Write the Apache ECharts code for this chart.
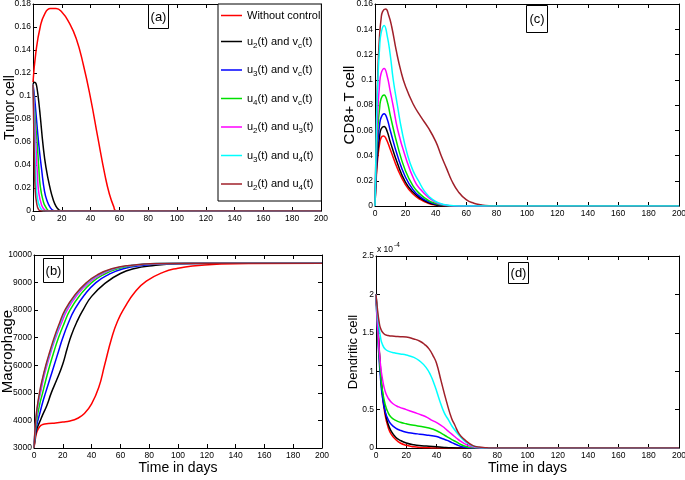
<!DOCTYPE html>
<html>
<head>
<meta charset="utf-8">
<script src="https://cdn.jsdelivr.net/npm/echarts@6/dist/echarts.min.js"></script>
<style>html,body{margin:0;padding:0;background:#fff;}#c{width:685px;height:480px;}</style>
</head>
<body>
<div id="c"></div>
<script>
// ---- series names and colours ----
var seriesNames = ['Without control','u2(t) and vc(t)','u3(t) and vc(t)','u4(t) and vc(t)','u2(t) and u3(t)','u3(t) and u4(t)','u2(t) and u4(t)'];
var seriesColors = ['#ff0000','#000000','#0000ff','#00e000','#ff00ff','#00ffff','#a0202a'];

// ---- (a) Tumor cell ----
var tumorRed = [[0,0.112],[2,0.138],[5,0.160],[8,0.171],[12,0.176],[16,0.176],[20,0.173],[25,0.164],[30,0.150],[35,0.127],[40,0.098],[45,0.064],[50,0.031],[53,0.015],[56,0.004],[58,0],[200,0]];
var tumorBlack = [[0,0.11],[1,0.112],[2,0.111],[3,0.105],[4,0.095],[5,0.083],[7,0.057],[9,0.038],[12,0.019],[14,0.01],[16,0.004],[18,0.001],[20,0],[200,0]];
var tumorBlue = [[0,0.11],[1,0.10],[2,0.086],[4,0.058],[6,0.036],[8,0.017],[10,0.008],[12,0.003],[14,0.0005],[16,0],[200,0]];
var tumorGreen = [[0,0.11],[1,0.09],[2,0.073],[3,0.057],[4,0.038],[5,0.022],[7,0.009],[9,0.003],[12,0],[200,0]];
var tumorMagenta = [[0,0.11],[1,0.083],[2,0.058],[3,0.033],[4,0.016],[6,0.005],[8,0.001],[10,0],[200,0]];
var tumorCyan = [[0,0.11],[1,0.068],[2,0.027],[3,0.012],[5,0.003],[8,0],[200,0]];
var tumorBrown = [[0,0.11],[0.5,0.075],[1,0.042],[1.5,0.019],[2.5,0.007],[4,0.001],[6,0],[200,0]];

// ---- (b) Macrophage ----
var macRed = [[0,3000],[1,3350],[2,3580],[4,3780],[6,3850],[10,3890],[15,3910],[20,3940],[25,3980],[30,4070],[35,4250],[40,4600],[45,5200],[49,6000],[54,7000],[58,7600],[63,8100],[70,8650],[78,9050],[90,9380],[100,9520],[110,9600],[130,9670],[150,9695],[200,9700]];
var macBlack = [[0,3000],[1,3450],[2,3700],[4,3950],[6,4200],[9,4550],[12,5000],[16,5500],[20,6050],[23,6600],[26,7100],[30,7600],[34,8000],[40,8500],[50,9000],[60,9330],[70,9510],[80,9600],[100,9680],[130,9700],[200,9700]];
var macBlue = [[0,3000],[1,3550],[2,3850],[4,4250],[6,4650],[8,5000],[11,5500],[14,6000],[17,6500],[20,7000],[24,7550],[28,8000],[35,8550],[43,9000],[52,9300],[62,9500],[75,9620],[90,9680],[120,9700],[200,9700]];
var macGreen = [[0,3000],[1,3650],[2,4050],[4,4600],[6,5000],[8,5420],[11,6000],[14,6520],[17,7000],[21,7530],[25,8000],[32,8550],[40,9000],[48,9280],[58,9500],[70,9620],[85,9680],[110,9700],[200,9700]];
var macMagenta = [[0,3000],[1,3800],[2,4250],[3,4650],[4.5,5000],[6.5,5500],[9,6000],[12,6530],[15,7000],[19,7530],[23,8000],[30,8560],[38,9000],[46,9280],[56,9500],[68,9620],[85,9685],[110,9700],[200,9700]];
var macCyan = [[0,3000],[1,3850],[2,4350],[4,5000],[6,5500],[8.5,6000],[11.5,6520],[14.5,7000],[18,7500],[22,8000],[29,8560],[37,9000],[45,9290],[55,9500],[67,9620],[85,9690],[110,9700],[200,9700]];
var macBrown = [[0,3000],[1,3900],[2,4400],[3.8,5000],[5.8,5500],[8.2,6000],[11,6500],[14,7000],[17.5,7500],[21.5,8000],[28.5,8560],[36.5,9000],[44,9280],[54,9500],[66,9620],[85,9690],[110,9700],[200,9700]];

// ---- (c) CD8+ T cell ----
var cd8Red = [[0,0],[1,0.026],[2,0.04],[3,0.049],[4,0.054],[5.5,0.0555],[7,0.054],[10,0.045],[15,0.029],[20,0.017],[25,0.0095],[30,0.005],[35,0.0022],[40,0.0008],[45,0.0002],[50,0],[200,0]];
var cd8Black = [[0,0],[1,0.029],[2,0.045],[3,0.055],[4,0.061],[6,0.063],[8,0.059],[10,0.051],[15,0.033],[20,0.019],[25,0.011],[30,0.006],[35,0.0028],[40,0.001],[45,0.0003],[50,0],[200,0]];
var cd8Blue = [[0,0],[1,0.034],[2,0.053],[3,0.064],[4,0.07],[6,0.073],[8,0.069],[10,0.06],[15,0.039],[20,0.023],[25,0.013],[30,0.007],[35,0.0035],[40,0.0015],[45,0.0005],[52,0],[200,0]];
var cd8Green = [[0,0],[1,0.041],[2,0.064],[3,0.077],[4,0.085],[6,0.088],[8,0.083],[10,0.072],[15,0.047],[20,0.028],[25,0.016],[30,0.009],[35,0.0045],[40,0.002],[45,0.0007],[52,0],[200,0]];
var cd8Magenta = [[0,0],[1,0.05],[2,0.079],[3,0.096],[4,0.105],[6,0.109],[8,0.103],[10,0.091],[12,0.079],[15,0.06],[20,0.039],[26,0.02],[30,0.013],[35,0.007],[40,0.003],[45,0.001],[52,0],[200,0]];
var cd8Cyan = [[0,0],[1,0.066],[2,0.103],[3,0.125],[4,0.137],[6,0.143],[8,0.135],[10,0.12],[12,0.1],[14.7,0.08],[17.6,0.06],[21.5,0.04],[25,0.028],[28.6,0.02],[33,0.011],[38,0.005],[43,0.002],[48,0.0006],[55,0],[200,0]];
var cd8Brown = [[0,0],[1,0.07],[2,0.11],[3,0.135],[4,0.148],[5,0.154],[7,0.156],[9,0.151],[11,0.142],[14,0.123],[17,0.107],[20,0.095],[25,0.081],[30,0.071],[35,0.062],[40,0.051],[43.5,0.04],[47,0.03],[50.5,0.02],[55,0.011],[60,0.005],[65,0.0022],[70,0.0009],[75,0.0002],[80,0],[200,0]];

// ---- (d) Dendritic cell (x 10^-4) ----
var dcRed = [[0,2],[1,1.65],[2,1.3],[3,0.98],[4,0.73],[6,0.43],[8,0.27],[10,0.18],[13,0.11],[16,0.065],[20,0.035],[25,0.015],[30,0.006],[35,0.002],[40,0],[200,0]];
var dcBlack = [[0,2],[1,1.67],[2,1.33],[3,1.02],[4,0.77],[6,0.47],[8,0.31],[10,0.22],[13,0.14],[16,0.1],[20,0.065],[25,0.042],[30,0.03],[35,0.022],[40,0.015],[45,0.008],[50,0.003],[55,0.001],[60,0],[200,0]];
var dcBlue = [[0,2],[1,1.52],[2,1.17],[3,0.9],[4,0.7],[6,0.48],[8,0.37],[10,0.31],[13,0.26],[16,0.23],[20,0.205],[25,0.19],[29,0.18],[33,0.17],[37,0.16],[40,0.15],[44,0.12],[47,0.1],[50,0.07],[53,0.045],[56,0.02],[60,0.006],[64,0],[200,0]];
var dcGreen = [[0,2],[1,1.55],[2,1.22],[3,0.97],[4,0.78],[6,0.57],[8,0.46],[10,0.4],[13,0.36],[16,0.335],[20,0.315],[25,0.295],[30,0.28],[35,0.26],[40,0.225],[44,0.18],[47,0.145],[50,0.11],[53,0.08],[56,0.045],[60,0.015],[64,0.004],[68,0],[200,0]];
var dcMagenta = [[0,2],[1,1.6],[2,1.3],[3,1.08],[4,0.93],[6,0.74],[8,0.65],[11,0.58],[15,0.535],[20,0.5],[25,0.465],[30,0.43],[34,0.395],[37,0.36],[40,0.33],[44,0.28],[47,0.23],[50,0.18],[53,0.13],[56,0.085],[60,0.04],[63,0.018],[66,0.006],[70,0],[200,0]];
var dcCyan = [[0,2],[1,1.75],[2,1.57],[3,1.44],[4,1.36],[6,1.29],[9,1.255],[12,1.24],[16,1.225],[20,1.21],[25,1.18],[29,1.13],[33,1.05],[36,0.95],[39,0.8],[42,0.62],[45,0.46],[48,0.36],[51,0.26],[55.5,0.15],[60,0.065],[64,0.025],[68,0.008],[72,0],[200,0]];
var dcBrown = [[0,2],[1,1.8],[2,1.65],[3,1.56],[5,1.49],[8,1.465],[12,1.455],[16,1.45],[20,1.445],[25,1.42],[29,1.39],[32,1.35],[35,1.29],[38,1.19],[40,1.1],[43,0.87],[46.6,0.6],[50,0.38],[52,0.3],[55,0.18],[59,0.1],[64,0.03],[68,0.012],[72,0.004],[76,0],[200,0]];

var panelData = [
  [tumorRed, tumorBlack, tumorBlue, tumorGreen, tumorMagenta, tumorCyan, tumorBrown],
  [macRed, macBlack, macBlue, macGreen, macMagenta, macCyan, macBrown],
  [cd8Red, cd8Black, cd8Blue, cd8Green, cd8Magenta, cd8Cyan, cd8Brown],
  [dcRed, dcBlack, dcBlue, dcGreen, dcMagenta, dcCyan, dcBrown]
];
var yNames = ['Tumor cell','Macrophage','CD8+ T cell','Dendritic cell'];
var yMin = [0, 3000, 0, 0];
var yMax = [0.18, 10000, 0.16, 2.5];
var yStep = [0.02, 1000, 0.02, 0.5];
var panelTags = ['(a)','(b)','(c)','(d)'];

var SANS = '"Liberation Sans",Arial,sans-serif';

var grids = [
  {left:33, top:4, width:288, height:207, outerBoundsMode:'none', containLabel:false},
  {left:34, top:255, width:288, height:193, outerBoundsMode:'none', containLabel:false},
  {left:375, top:4, width:304, height:202, outerBoundsMode:'none', containLabel:false},
  {left:376, top:256, width:303, height:192, outerBoundsMode:'none', containLabel:false}
];
var yNameGap = [16, 19, 18, 16];
var yNameSize = [14, 15, 15, 13];

var xAxes = [], yAxes = [], series = [];
grids.forEach(function(g, i){
  var tick = {show:true, inside:true, length:4, lineStyle:{color:'#000', width:1}};
  var line = {show:true, onZero:false, lineStyle:{color:'#000', width:1}};
  var fmt = function(v){ return String(+(+v).toFixed(4)); };
  var lbl = {color:'#000', fontSize:8.5, fontFamily:SANS, margin:3, formatter:fmt};
  var ylbl = {color:'#000', fontSize:8.5, fontFamily:SANS, margin:2, formatter:fmt};
  var bottom = (i === 1 || i === 3);
  xAxes.push({type:'value', gridIndex:i, position:'bottom', min:0, max:200, interval:20,
    axisLine:line, axisTick:tick, axisLabel:lbl, splitLine:{show:false},
    name: bottom ? 'Time in days' : '', nameLocation:'middle', nameGap:13, nameMoveOverlap:false,
    nameTextStyle:{color:'#000', fontSize:14, fontFamily:SANS}});
  xAxes.push({type:'value', gridIndex:i, position:'top', min:0, max:200, interval:20,
    axisLine:line, axisTick:tick, axisLabel:{show:false}, splitLine:{show:false}});
  yAxes.push({type:'value', gridIndex:i, position:'left', min:yMin[i], max:yMax[i], interval:yStep[i],
    axisLine:line, axisTick:tick, axisLabel:ylbl, splitLine:{show:false},
    name:yNames[i], nameLocation:'middle', nameGap:yNameGap[i], nameMoveOverlap:false,
    nameTextStyle:{color:'#000', fontSize:yNameSize[i], fontFamily:SANS}});
  yAxes.push({type:'value', gridIndex:i, position:'right', min:yMin[i], max:yMax[i], interval:yStep[i],
    axisLine:line, axisTick:tick, axisLabel:{show:false}, splitLine:{show:false}});
  var order = (i === 2) ? [0,1,2,3,4,6,5] : [0,1,2,3,4,5,6];
  order.forEach(function(k){
    series.push({type:'line', name:seriesNames[k], xAxisIndex:2*i, yAxisIndex:2*i,
      data:panelData[i][k], showSymbol:false, symbol:'none', smooth:0.5,
      lineStyle:{color:seriesColors[k], width:1.5}, itemStyle:{color:seriesColors[k]}, animation:false});
  });
});

var legendRich = {
  'Without control':'{n|Without control}',
  'u2(t) and vc(t)':'{n|u}{s|2}{n|(t) and v}{s|c}{n|(t)}',
  'u3(t) and vc(t)':'{n|u}{s|3}{n|(t) and v}{s|c}{n|(t)}',
  'u4(t) and vc(t)':'{n|u}{s|4}{n|(t) and v}{s|c}{n|(t)}',
  'u2(t) and u3(t)':'{n|u}{s|2}{n|(t) and u}{s|3}{n|(t)}',
  'u3(t) and u4(t)':'{n|u}{s|3}{n|(t) and u}{s|4}{n|(t)}',
  'u2(t) and u4(t)':'{n|u}{s|2}{n|(t) and u}{s|4}{n|(t)}'
};

var graphics = [];
var tagBoxes = [[148,4,20,24],[43,258,20,24],[526,5,21,27],[508,262,20,21]];
tagBoxes.forEach(function(b, i){
  graphics.push({type:'rect', shape:{x:b[0]+0.5, y:b[1]+0.5, width:b[2], height:b[3]},
    style:{fill:'#fff', stroke:'#000', lineWidth:1}, z:100});
  graphics.push({type:'text', x:b[0]+b[2]/2+0.5, y:b[1]+b[3]/2+1,
    style:{text:panelTags[i], fill:'#000', font:'13px '+SANS, textAlign:'center', textVerticalAlign:'middle'}, z:101});
});
graphics.push({type:'text', left:377, top:242, style:{
  text:'{a|x 10}{b|-4}', rich:{a:{fontSize:8.5, fontFamily:SANS, fill:'#000', padding:[4,0,0,0]}, b:{fontSize:6.5, fontFamily:SANS, fill:'#000', padding:[0,0,4,1]}}}, z:100});

var option = {
  backgroundColor:'#fff',
  animation:false,
  grid: grids,
  xAxis: xAxes,
  yAxis: yAxes,
  series: series,
  legend: {
    orient:'vertical', left:218, top:4,
    data: seriesNames.map(function(n, k){ return {name:n, icon:'rect', itemStyle:{color:seriesColors[k]}}; }),
    itemWidth:21, itemHeight:1.5, itemGap:15,
    padding:[6,1,9,3],
    borderColor:'#000', borderWidth:1, backgroundColor:'#fff',
    selectedMode:false,
    formatter:function(n){ return legendRich[n]; },
    textStyle:{ color:'#000', rich:{
      n:{fontSize:11, fontFamily:SANS, color:'#000'},
      s:{fontSize:8, fontFamily:SANS, color:'#000', padding:[8,0,0,0]}
    }}
  },
  graphic: graphics
};
var chart = echarts.init(document.getElementById('c'), null, {renderer:'canvas'});
chart.setOption(option);
</script>
</body>
</html>
